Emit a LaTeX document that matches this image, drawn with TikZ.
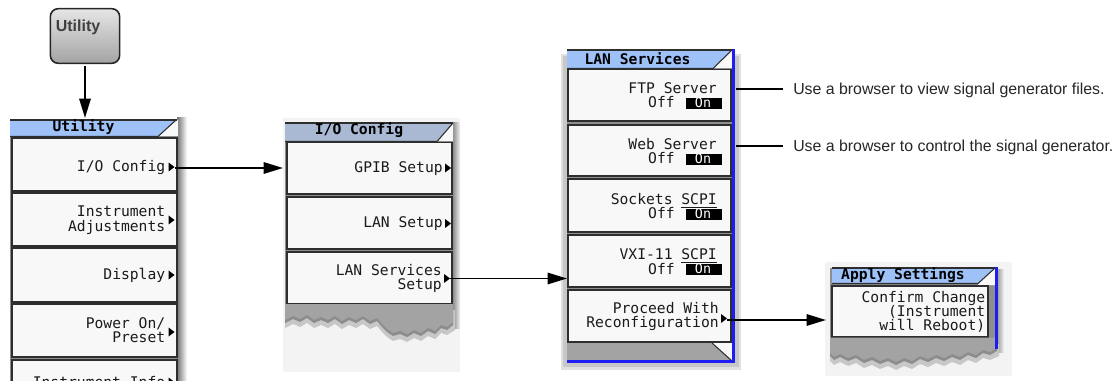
\documentclass[tikz,border=0pt]{standalone}
\usepackage{fontspec}
\setmainfont{Liberation Sans}
\newfontfamily\menufont{DejaVu Sans Mono}
\usetikzlibrary{arrows.meta}
\definecolor{btnfill}{HTML}{F8F8F8}
\definecolor{btnline}{HTML}{2E2E2E}
\definecolor{panelgray}{HTML}{8E8E8E}
\definecolor{hdrblue}{HTML}{9EC2F8}
\definecolor{hdrslate}{HTML}{A9B9D3}
\definecolor{frameblue}{HTML}{1E1EF0}
\definecolor{torngray}{HTML}{A3A3A3}
\definecolor{pale}{HTML}{F3F3F3}
\definecolor{txt}{HTML}{1A1A1A}
\tikzset{
 btnbox/.style={fill=btnfill, draw=btnline, line width=0.9pt},
 hdrline/.style={draw=btnline, line width=0.8pt},
 mtxt/.style={font=\menufont\fontsize{11}{11}\selectfont, text=txt, inner sep=0pt, anchor=base east},
 htxt/.style={font=\menufont\bfseries\fontsize{11}{11}\selectfont, text=black, inner sep=0pt, anchor=base},
 ontxt/.style={font=\menufont\fontsize{10}{10}\selectfont, text=white, inner sep=0pt, anchor=base},
 anno/.style={font=\fontsize{11.9}{14}\selectfont, text=black!85, inner sep=0pt, anchor=base west},
 conn/.style={line width=1.4pt, -{Triangle[length=14.5pt,width=8.5pt]}},
 noteline/.style={line width=1.1pt},
 tornshadow/.style={fill=black!45},
}
\newcommand\subtri[2]{\fill[black] (#1,#2-4.5) -- (#1+6,#2) -- (#1,#2+4.5) -- cycle;}
\newcommand\onbox[2]{\fill[black] (#1,#2-10) rectangle (#1+36,#2+1);}
\begin{document}
\begin{tikzpicture}[x=0.75pt,y=-0.75pt]
\useasboundingbox (0,0) rectangle (1118,381);
\clip (0,0) rectangle (1118,381);

% ---------- Utility hardkey ----------
\node[draw=black!85, line width=1.2pt, rounded corners=6pt, minimum width=52pt, minimum height=41pt, inner sep=0pt,
      top color=black!10, middle color=black!24, bottom color=black!36] (ubtn) at (85,36) {};
\node[font=\bfseries\fontsize{12}{12}\selectfont, text=black!75, inner sep=0pt, anchor=base] (ubtntxt) at (78,31.5) {Utility};

% ---------- Utility menu ----------
\shade[left color=black!55, right color=white] (177,118) rectangle (187,381);
\fill[panelgray] (10,120) rectangle (178,381);
\fill[btnfill] (158,136) -- (177,120) -- (178,120) -- (178,136) -- cycle;
\fill[hdrblue] (10,120) -- (176,120) -- (158,136) -- (10,136) -- cycle;
\draw[hdrline] (10,120) -- (177,120);
\draw[hdrline] (10,136.5) -- (158,136.5) -- (176,120);
\node[htxt] (uhdr) at (83.5,132) {Utility};
\coordinate (uhdrtop) at (85,118);
\draw[btnbox] (12,138) rectangle (177,191);
\draw[btnbox] (12,193) rectangle (177,246);
\draw[btnbox] (12,248) rectangle (177,302);
\draw[btnbox] (12,304) rectangle (177,357);
\draw[btnbox] (12,360) rectangle (177,413);
\node[mtxt] (uio) at (165.5,171.5) {I/O Config};
\subtri{168.5}{167}
\node[mtxt] (uadj1) at (165.5,216.5) {Instrument};
\node[mtxt] (uadj2) at (165.5,231.5) {Adjustments};
\subtri{168.5}{220}
\node[mtxt] (udisp) at (165.5,279.5) {Display};
\subtri{168.5}{275}
\node[mtxt] (upow1) at (165.5,328) {Power On/};
\node[mtxt] (upow2) at (165.5,342) {Preset};
\subtri{168.5}{332}
\node[mtxt] (uinfo) at (165.5,387) {Instrument Info};
\subtri{168.5}{382}

% ---------- I/O Config menu ----------
\fill[pale] (283,118) rectangle (460,372);
\shade[left color=black!50, right color=pale] (452,123) rectangle (460,328);
\fill[panelgray] (285,123) rectangle (453,305);
\fill[btnfill] (437,141) -- (453,123) -- (453,141) -- cycle;
\fill[hdrslate] (285,123) -- (453,123) -- (437,141) -- (285,141) -- cycle;
\draw[hdrline] (285,123) -- (453,123);
\draw[hdrline] (285,141.5) -- (437,141.5) -- (453,123);
\node[htxt] (iohdr) at (359,135) {I/O Config};
\draw[btnbox] (287,142.5) rectangle (452,194);
\draw[btnbox] (287,197) rectangle (452,249);
\draw[btnbox] (287,252) rectangle (452,304);
\node[mtxt] (gpib) at (443,172.5) {GPIB Setup};
\subtri{445}{168}
\node[mtxt] (lan) at (443,228) {LAN Setup};
\subtri{445}{223.5}
\node[mtxt] (lsv1) at (442,275.5) {LAN Services};
\node[mtxt] (lsv2) at (442,289.5) {Setup};
\subtri{444}{278.5}
\fill[black!22] (285,310) -- (455,310) -- (455,330) -- (447,335) -- (441,333) -- (435,339) -- (428,336) -- (421,341) -- (414,338) -- (407,342) -- (400,339) -- (393,341) -- (387,337) -- (382,332) -- (377,326) -- (370,329) -- (363,324) -- (356,328) -- (349,325) -- (342,329) -- (335,324) -- (328,328) -- (321,325) -- (314,328) -- (307,323) -- (300,327) -- (293,324) -- (285,328) -- cycle;
\fill[tornshadow] (285,308) -- (453,308) -- (453,325) -- (447,330) -- (441,328) -- (435,334) -- (428,331) -- (421,336) -- (414,333) -- (407,337) -- (400,334) -- (393,336) -- (387,332) -- (382,327) -- (377,321) -- (370,324) -- (363,319) -- (356,323) -- (349,320) -- (342,324) -- (335,319) -- (328,323) -- (321,320) -- (314,323) -- (307,318) -- (300,322) -- (293,319) -- (285,323) -- cycle;
\fill[torngray] (285,304) -- (453,304) -- (453,322) -- (447,327) -- (441,325) -- (435,331) -- (428,328) -- (421,333) -- (414,330) -- (407,334) -- (400,331) -- (393,333) -- (387,329) -- (382,324) -- (377,318) -- (370,321) -- (363,316) -- (356,320) -- (349,317) -- (342,321) -- (335,316) -- (328,320) -- (321,317) -- (314,320) -- (307,315) -- (300,319) -- (293,316) -- (285,320) -- cycle;

% ---------- LAN Services menu ----------
\fill[black!12] (561,54) rectangle (741,370);
\fill[black!22] (563,56) rectangle (739,367);
\fill[panelgray] (567,50) rectangle (734,362);
\fill[btnfill] (713,68) -- (732,50) -- (734,50) -- (734,68) -- cycle;
\fill[hdrblue] (567,50) -- (732,50) -- (713,68) -- (567,68) -- cycle;
\draw[hdrline] (567,50) -- (733,50);
\draw[hdrline] (567,68.5) -- (713,68.5) -- (732,50);
\node[htxt] (lshdr) at (637.5,65) {LAN Services};
\draw[btnbox] (568,69.5) rectangle (731,121);
\draw[btnbox] (568,125) rectangle (731,176);
\draw[btnbox] (568,179) rectangle (731,232);
\draw[btnbox] (568,235) rectangle (731,287);
\draw[btnbox] (568,290) rectangle (731,342);
\fill[torngray] (567,343) rectangle (733,361);
\fill[btnfill] (712,343) -- (733,343) -- (733,362) -- cycle;
\draw[hdrline] (712,343) -- (732,361);
\draw[frameblue, line width=1.6pt] (733.5,49.5) -- (733.5,361.5) -- (566.5,361.5);
% FTP
\node[mtxt] (ftp1) at (717,94) {FTP Server};
\node[mtxt] (ftp2) at (675,108) {Off};
\onbox{686}{108}
\node[ontxt] (ftp3) at (703,107.5) {On};
% Web
\node[mtxt] (web1) at (717,150) {Web Server};
\node[mtxt] (web2) at (675,164) {Off};
\onbox{686}{164}
\node[ontxt] (web3) at (703,163.5) {On};
% Sockets
\node[mtxt] (sck1) at (717,205) {Sockets \underline{SCPI}};
\node[mtxt] (sck2) at (675,219) {Off};
\onbox{686}{219}
\node[ontxt] (sck3) at (703,218.5) {On};
% VXI
\node[mtxt] (vxi1) at (717,260) {VXI-11 \underline{SCPI}};
\node[mtxt] (vxi2) at (675,274) {Off};
\onbox{686}{274}
\node[ontxt] (vxi3) at (703,273.5) {On};
% Proceed
\node[mtxt] (prc1) at (719,313) {Proceed With};
\node[mtxt] (prc2) at (719,327) {Reconfiguration};
\subtri{721}{318.5}

% ---------- Apply Settings ----------
\fill[pale] (825,262) rectangle (1012,376);
\shade[left color=black!45, right color=pale] (996,270) rectangle (1004,352);
\fill[panelgray] (830,268) rectangle (997,340);
\fill[btnfill] (978,283) -- (995,268) -- (997,268) -- (997,285) -- (978,285) -- cycle;
\fill[hdrblue] (832,268) -- (995,268) -- (978,283) -- (832,283) -- cycle;
\draw[hdrline] (832,268) -- (995,268);
\draw[hdrline] (832,283.5) -- (978,283.5) -- (995,268);
\node[htxt] (aphdr) at (903,279) {Apply Settings};
\draw[btnbox] (832,286) rectangle (988,337);
\node[mtxt] (ap1) at (985.5,302.5) {Confirm Change};
\node[mtxt] (ap2) at (985.5,316.5) {(Instrument};
\node[mtxt] (ap3) at (985.5,330.5) {will Reboot)};
\fill[black!22] (830,344) -- (999,344) -- (999,356) -- (990,360) -- (983,358) -- (976,363) -- (968,360) -- (960,365) -- (952,362) -- (944,366) -- (936,363) -- (928,367) -- (920,364) -- (912,369) -- (904,366) -- (896,370) -- (888,366) -- (880,369) -- (872,365) -- (864,368) -- (856,363) -- (848,366) -- (840,362) -- (834,365) -- (830,361) -- cycle;
\fill[tornshadow] (830,341) -- (997,341) -- (997,351) -- (990,355) -- (983,353) -- (976,358) -- (968,355) -- (960,360) -- (952,357) -- (944,361) -- (936,358) -- (928,362) -- (920,359) -- (912,364) -- (904,361) -- (896,365) -- (888,361) -- (880,364) -- (872,360) -- (864,363) -- (856,358) -- (848,361) -- (840,357) -- (834,360) -- (830,356) -- cycle;
\fill[torngray] (830,337.5) -- (997,337.5) -- (997,348) -- (990,352) -- (983,350) -- (976,355) -- (968,352) -- (960,357) -- (952,354) -- (944,358) -- (936,355) -- (928,359) -- (920,356) -- (912,361) -- (904,358) -- (896,362) -- (888,358) -- (880,361) -- (872,357) -- (864,360) -- (856,355) -- (848,358) -- (840,354) -- (834,357) -- (830,353) -- cycle;
\draw[frameblue, line width=1.6pt] (996.5,267.5) -- (996.5,349);

% ---------- annotations ----------
\node[anno] (ftpnote) at (793,94.5) {Use a browser to view signal generator files.};
\node[anno] (webnote) at (793,151.5) {Use a browser to control the signal generator.};
\coordinate (ftpa) at (736,89);
\coordinate (ftpb) at (783,89);
\coordinate (weba) at (736,146);
\coordinate (webb) at (783,146);
\draw[noteline] (ftpa) -- (ftpb);
\draw[noteline] (weba) -- (webb);

% ---------- connectors ----------
\coordinate (ioout) at (174.5,168);
\coordinate (ioin) at (283,168);
\coordinate (lsout) at (450,278.5);
\coordinate (lsin) at (567,278.5);
\coordinate (prout) at (727,320);
\coordinate (prin) at (826,320);
\draw[conn, shorten <=1.5pt] (ubtn.south) -- (uhdrtop);
\draw[conn] (ioout) -- (ioin);
\draw[conn] (lsout) -- (lsin);
\draw[conn] (prout) -- (prin);
\end{tikzpicture}
\end{document}
